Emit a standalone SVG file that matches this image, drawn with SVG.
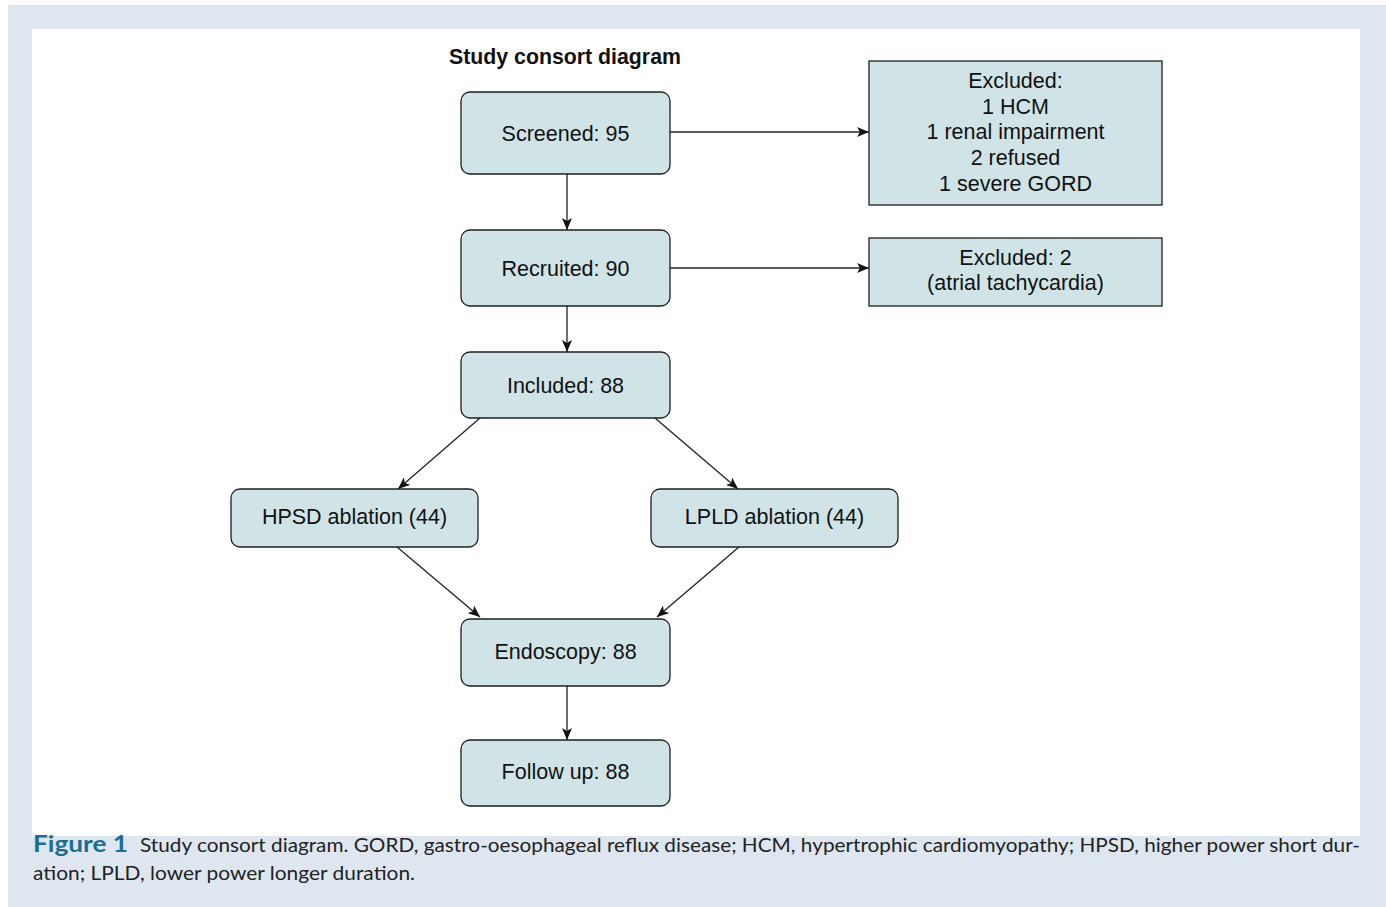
<svg xmlns="http://www.w3.org/2000/svg" width="1386" height="907" viewBox="0 0 1386 907">
<defs>
<style>
.bg{fill:#dee7f0}
.node{fill:#d0e4e7;stroke:#1e1e1e;stroke-width:1.3}
.t{font-family:"Liberation Sans",Arial,sans-serif;font-size:21.5px;fill:#111;text-anchor:middle}
.title{font-family:"Liberation Sans",Arial,sans-serif;font-size:21.3px;font-weight:bold;fill:#111}
.cap{font-family:Lato,"Open Sans",sans-serif;font-size:20px;fill:#222}
.fig{font-family:Lato,"Open Sans",sans-serif;font-size:22px;font-weight:bold;fill:#1b6d95}
.edge{stroke:#222;stroke-width:1.3;fill:none;marker-end:url(#ah)}
</style>
<marker id="ah" viewBox="0 0 12 10" refX="12" refY="5" markerWidth="12" markerHeight="10" markerUnits="userSpaceOnUse" orient="auto">
<path d="M0,0 L12,5 L0,10 L3,5 z" fill="#111"/>
</marker>
</defs>
<rect class="bg" x="8" y="5" width="1378" height="902"/>
<rect x="32" y="29" width="1328" height="807" fill="#ffffff"/>
<text class="title" x="449" y="64">Study consort diagram</text>
<g id="connectors">
<line class="edge" x1="670" y1="132" x2="869" y2="132"/>
<line class="edge" x1="670" y1="268" x2="869" y2="268"/>
<line class="edge" x1="567" y1="174" x2="567" y2="230"/>
<line class="edge" x1="567" y1="306" x2="567" y2="352"/>
<line class="edge" x1="480" y1="418" x2="398" y2="489"/>
<line class="edge" x1="655" y1="418" x2="738" y2="489"/>
<line class="edge" x1="397" y1="547" x2="480" y2="617"/>
<line class="edge" x1="739" y1="547" x2="657" y2="617"/>
<line class="edge" x1="567" y1="686" x2="567" y2="740"/>
</g>
<g id="screened"><rect class="node" x="461" y="92" width="209" height="82" rx="9"/><text class="t" x="565.5" y="141">Screened: 95</text></g>
<g id="recruited"><rect class="node" x="461" y="230" width="209" height="76" rx="9"/><text class="t" x="565.5" y="276">Recruited: 90</text></g>
<g id="included"><rect class="node" x="461" y="352" width="209" height="66" rx="9"/><text class="t" x="565.5" y="393">Included: 88</text></g>
<g id="hpsd"><rect class="node" x="231" y="489" width="247" height="58" rx="9"/><text class="t" x="354.5" y="524">HPSD ablation (44)</text></g>
<g id="lpld"><rect class="node" x="651" y="489" width="247" height="58" rx="9"/><text class="t" x="774.5" y="524">LPLD ablation (44)</text></g>
<g id="endoscopy"><rect class="node" x="461" y="619" width="209" height="67" rx="9"/><text class="t" x="565.5" y="659">Endoscopy: 88</text></g>
<g id="followup"><rect class="node" x="461" y="740" width="209" height="66" rx="9"/><text class="t" x="565.5" y="779">Follow up: 88</text></g>
<g id="excluded1"><rect class="node" x="869" y="61" width="293" height="144"/>
<text class="t" x="1015.5" y="88">Excluded:</text>
<text class="t" x="1015.5" y="114">1 HCM</text>
<text class="t" x="1015.5" y="139">1 renal impairment</text>
<text class="t" x="1015.5" y="165">2 refused</text>
<text class="t" x="1015.5" y="191">1 severe GORD</text></g>
<g id="excluded2"><rect class="node" x="869" y="238" width="293" height="68"/>
<text class="t" x="1015.5" y="265">Excluded: 2</text>
<text class="t" x="1015.5" y="290">(atrial tachycardia)</text></g>
<text class="fig" x="33" y="852" textLength="95" lengthAdjust="spacingAndGlyphs">Figure 1</text>
<text class="cap" x="140" y="852" textLength="1220" lengthAdjust="spacingAndGlyphs">Study consort diagram. GORD, gastro-oesophageal reflux disease; HCM, hypertrophic cardiomyopathy; HPSD, higher power short dur-</text>
<text class="cap" x="33" y="880" textLength="382" lengthAdjust="spacingAndGlyphs">ation; LPLD, lower power longer duration.</text>
</svg>
